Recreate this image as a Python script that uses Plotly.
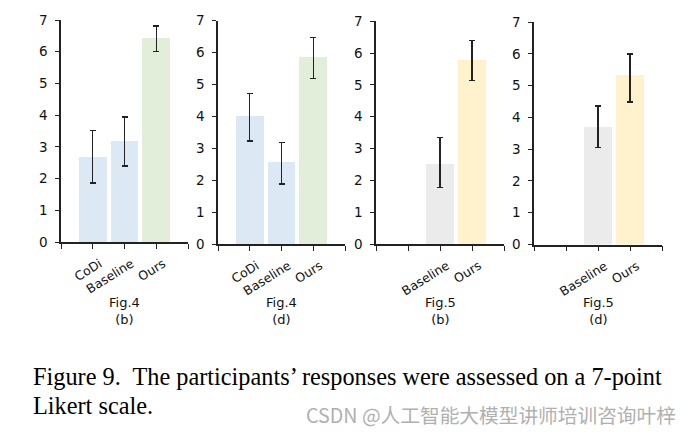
import plotly.graph_objects as go

W, H = 691, 435

# ---- data ----
p1_cats = ["CoDi", "Baseline", "Ours"]
p1_mean = [2.68, 3.19, 6.43]
p1_hi = [3.51, 3.94, 6.81]
p1_lo = [1.86, 2.40, 6.00]

p2_cats = ["CoDi", "Baseline", "Ours"]
p2_mean = [4.01, 2.57, 5.86]
p2_hi = [4.71, 3.18, 6.47]
p2_lo = [3.23, 1.88, 5.18]

p3_cats = ["Baseline", "Ours"]
p3_mean = [2.52, 5.79]
p3_hi = [3.34, 6.39]
p3_lo = [1.78, 5.13]

p4_cats = ["Baseline", "Ours"]
p4_mean = [3.70, 5.33]
p4_hi = [4.36, 5.99]
p4_lo = [3.06, 4.48]

panel_titles = ["Fig.4<br>(b)", "Fig.4<br>(d)", "Fig.5<br>(b)", "Fig.5<br>(d)"]
y_ticks = [0, 1, 2, 3, 4, 5, 6, 7]

BLUE = "#dce8f4"
GREEN = "#e2eed9"
GREY = "#ebebeb"
YELLOW = "#fff2cd"

panels = [
    dict(cats=p1_cats, mean=p1_mean, hi=p1_hi, lo=p1_lo, offset=1,
         colors=[BLUE, BLUE, GREEN], px=(61, 188), py=(242, 20)),
    dict(cats=p2_cats, mean=p2_mean, hi=p2_hi, lo=p2_lo, offset=1,
         colors=[BLUE, BLUE, GREEN], px=(218, 345), py=(244, 20.7)),
    dict(cats=p3_cats, mean=p3_mean, hi=p3_hi, lo=p3_lo, offset=2,
         colors=[GREY, YELLOW], px=(376, 504), py=(244, 21.3)),
    dict(cats=p4_cats, mean=p4_mean, hi=p4_hi, lo=p4_lo, offset=2,
         colors=[GREY, YELLOW], px=(534, 662), py=(244.5, 22)),
]

fig = go.Figure()
TICKFONT = dict(family="DejaVu Sans", size=13.5, color="#111")

for i, p in enumerate(panels):
    n = i + 1
    xa = "x" if n == 1 else f"x{n}"
    ya = "y" if n == 1 else f"y{n}"
    xs = [p["offset"] + k for k in range(len(p["cats"]))]
    fig.add_trace(go.Bar(
        x=xs, y=p["mean"], width=0.875,
        marker=dict(color=p["colors"], line=dict(width=0)),
        error_y=dict(type="data", symmetric=False,
                     array=[h - m for h, m in zip(p["hi"], p["mean"])],
                     arrayminus=[m - l for l, m in zip(p["lo"], p["mean"])],
                     color="#222", thickness=1.3, width=3),
        xaxis=xa, yaxis=ya, showlegend=False, hoverinfo="skip",
    ))
    ticktext = [""] * 5
    for k, c in enumerate(p["cats"]):
        ticktext[p["offset"] + k] = c
    x0, x1 = p["px"]
    yb, yt = p["py"]
    xkey = "xaxis" if n == 1 else f"xaxis{n}"
    ykey = "yaxis" if n == 1 else f"yaxis{n}"
    fig.update_layout(**{
        xkey: dict(domain=[x0 / W, x1 / W], range=[0, 4], anchor=ya,
                   tickvals=[0, 1, 2, 3, 4], ticktext=ticktext,
                   tickangle=-32, ticks="outside", ticklen=5, tickwidth=1.3,
                   tickcolor="#222", showline=True, linecolor="#222",
                   linewidth=1.5, showgrid=False, zeroline=False,
                   automargin=False, ticklabelshift=7, ticklabelstandoff=3,
                   tickfont=dict(family="DejaVu Sans", size=12.5, color="#111")),
        ykey: dict(domain=[1 - yb / H, 1 - yt / H], range=[0, 7], anchor=xa,
                   tickvals=y_ticks, ticks="outside", ticklen=4,
                   tickwidth=1.3, tickcolor="#222", showline=True,
                   linecolor="#222", linewidth=1.5, showgrid=False,
                   zeroline=False, automargin=False, ticklabelstandoff=5,
                   tickfont=TICKFONT),
    })
    fig.add_annotation(text=panel_titles[i], x=((x0 + x1) / 2) / W,
                       y=1 - 311 / H, xref="paper", yref="paper",
                       showarrow=False, xanchor="center", yanchor="middle",
                       font=dict(family="DejaVu Sans", size=13, color="#111"))

fig.add_annotation(
    text="Figure 9.\u00a0 The participants’ responses were assessed on a 7-point",
    x=31 / W, y=1 - 376 / H, xref="paper", yref="paper", showarrow=False,
    xanchor="left", yanchor="middle",
    font=dict(family="Liberation Serif", size=24.3, color="#000"))
fig.add_annotation(
    text="Likert scale.",
    x=31 / W, y=1 - 405 / H, xref="paper", yref="paper", showarrow=False,
    xanchor="left", yanchor="middle",
    font=dict(family="Liberation Serif", size=24.3, color="#000"))
fig.add_annotation(
    text="CSDN @人工智能大模型讲师培训咨询叶梓",
    x=678 / W, y=1 - 414 / H, xref="paper", yref="paper", showarrow=False,
    xanchor="right", yanchor="middle",
    font=dict(family="Noto Sans CJK SC", size=19.7, color="#b0b0b0"))

fig.update_layout(template="none", width=W, height=H,
                  margin=dict(l=0, r=0, t=0, b=0, pad=0, autoexpand=False),
                  paper_bgcolor="white", plot_bgcolor="white", bargap=0)

fig.write_html("out.html", config={"displayModeBar": False},
               post_script="document.body.style.margin='0';"
                           "document.body.style.overflow='hidden';")
